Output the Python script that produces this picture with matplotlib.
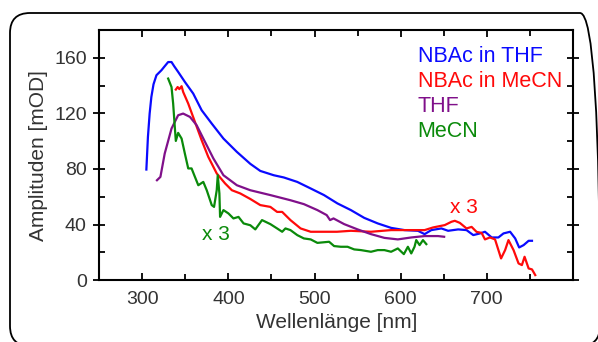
import matplotlib
matplotlib.use("Agg")
import matplotlib.pyplot as plt
from matplotlib.patches import FancyBboxPatch
from matplotlib.transforms import IdentityTransform
from matplotlib.ticker import MultipleLocator

plt.rcParams['font.family'] = ['Liberation Sans', 'DejaVu Sans']

# Transient absorption amplitudes (mOD) vs. wavelength (nm)
wl_nbac_thf = [304.7, 306.5, 308.5, 310.5, 313.0, 316.4, 322.2, 326.0, 330.0, 333.9,
               337.0, 341.6, 349.4, 359.1, 368.9, 380.6, 394.2, 409.8, 425.4, 437.0,
               452.6, 464.3, 479.9, 495.4, 511.0, 526.6, 542.2, 557.7, 573.4, 588.9,
               604.4, 620.1, 627.8, 635.6, 647.3, 655.1, 666.8, 676.5, 684.3, 692.1,
               697.9, 705.7, 713.5, 719.4, 727.1, 733.0, 737.6, 742.8, 748.6, 752.5]
amp_nbac_thf = [79.6, 103.0, 119.9, 131.9, 141.0, 147.5, 151.1, 154.0, 157.0, 157.0,
                154.0, 149.9, 142.7, 134.3, 122.3, 112.7, 101.9, 92.3, 83.7, 78.6,
                75.5, 73.9, 70.7, 66.0, 61.2, 55.2, 50.4, 44.8, 40.8, 37.6,
                36.0, 35.5, 33.1, 36.0, 37.2, 35.5, 36.5, 36.0, 32.4, 33.6,
                34.8, 30.7, 30.7, 33.6, 34.8, 30.0, 23.5, 25.2, 28.3, 28.3]

wl_nbac_mecn = [338.9, 341.0, 343.0, 345.6, 347.4, 353.3, 361.1, 368.9, 376.6, 386.4,
                396.1, 404.0, 413.7, 425.4, 437.0, 448.7, 456.5, 462.4, 472.0, 483.8,
                495.5, 511.0, 526.0, 542.2, 565.5, 588.9, 612.3, 627.8, 637.6, 651.2,
                659.0, 662.9, 668.7, 676.5, 682.4, 688.2, 694.0, 697.9, 703.7, 709.6,
                716.6, 721.3, 725.2, 731.1, 736.9, 740.8, 743.9, 748.6, 752.5, 756.3]
amp_nbac_mecn = [137.2, 139.0, 137.5, 139.6, 135.5, 127.1, 113.9, 100.7, 88.7, 76.8,
                 69.6, 64.7, 62.4, 58.4, 54.0, 52.7, 49.1, 49.1, 43.2, 37.2,
                 34.8, 34.8, 34.8, 35.5, 34.8, 36.0, 36.0, 36.0, 37.9, 39.6,
                 42.0, 42.7, 41.2, 37.2, 38.3, 34.7, 34.0, 29.3, 30.7, 29.3,
                 15.6, 21.6, 28.8, 21.6, 12.0, 10.8, 16.8, 8.4, 7.7, 3.6]

wl_thf = [317.0, 321.0, 326.0, 333.9, 341.6, 347.4, 355.3, 363.1, 372.8, 382.5,
          394.2, 409.8, 425.4, 448.7, 472.0, 487.6, 503.3, 514.1, 518.0, 522.0,
          534.4, 550.0, 565.5, 581.1, 596.7, 612.3, 627.8, 643.4, 650.5]
amp_thf = [71.9, 74.3, 91.1, 109.1, 118.7, 119.9, 117.5, 111.5, 99.5, 87.6,
           75.5, 68.3, 64.7, 61.2, 57.5, 54.7, 50.4, 46.8, 43.2, 44.4,
           40.3, 36.5, 33.1, 30.4, 29.3, 30.7, 31.7, 31.7, 31.2]

wl_mecn = [330.0, 333.9, 335.8, 337.7, 338.9, 341.6, 345.6, 349.4, 353.3, 357.2,
           361.1, 365.0, 370.8, 374.8, 380.6, 383.3, 386.4, 387.6, 389.5, 390.3,
           394.2, 400.0, 405.8, 411.7, 417.6, 425.4, 431.2, 439.0, 448.7, 456.5,
           462.4, 466.2, 472.0, 479.9, 487.6, 495.5, 503.3, 516.9, 522.7, 530.5,
           538.3, 546.0, 553.9, 565.5, 573.4, 581.1, 588.9, 596.7, 603.7, 608.4,
           612.3, 616.1, 618.1, 622.0, 625.9, 629.8]
amp_mecn = [145.1, 139.0, 127.1, 110.3, 100.2, 106.0, 101.9, 91.1, 80.4, 80.4,
            74.3, 68.3, 70.7, 64.7, 54.0, 52.7, 64.7, 75.5, 62.4, 45.5,
            50.4, 48.0, 44.4, 45.5, 40.8, 39.5, 36.5, 43.2, 40.3, 37.2,
            34.8, 37.2, 36.0, 32.4, 30.0, 29.3, 26.8, 27.6, 24.5, 24.0,
            24.0, 22.1, 21.6, 20.4, 21.6, 21.6, 20.4, 22.8, 18.7, 24.0,
            19.2, 24.0, 28.8, 25.2, 28.8, 25.9]

series_labels = ["NBAc in THF", "NBAc in MeCN", "THF", "MeCN"]
series_colors = ["#0a0aff", "#ff0a0a", "#80108a", "#0a8a0a"]

fig = plt.figure(figsize=(5.98, 3.42), dpi=100)

# rounded frame around the whole figure
frame = FancyBboxPatch((10, -4), 590, 333, boxstyle="round,pad=0,rounding_size=20",
                       transform=IdentityTransform(), facecolor="none",
                       edgecolor="black", linewidth=1.3, clip_on=False)
fig.patches.append(frame)

ax = fig.add_axes([0.166, 0.181, 0.792, 0.731])

series = [(wl_nbac_thf, amp_nbac_thf), (wl_nbac_mecn, amp_nbac_mecn),
          (wl_thf, amp_thf), (wl_mecn, amp_mecn)]
for (x, y), c in zip(series, series_colors):
    ax.plot(x, y, color=c, lw=1.6)

ax.set_xlim(250, 800)
ax.set_ylim(0, 180)
ax.xaxis.set_minor_locator(MultipleLocator(50))
ax.yaxis.set_major_locator(MultipleLocator(40))
ax.yaxis.set_minor_locator(MultipleLocator(20))
ax.set_xticks([300, 400, 500, 600, 700])

for s in ax.spines.values():
    s.set_linewidth(1.5)
ax.tick_params(which="both", direction="in", top=True, right=True, width=1.3,
               labelsize=14, labelcolor="#333333")
ax.tick_params(which="major", length=5)
ax.tick_params(which="minor", length=4)
ax.tick_params(axis="y", which="major", direction="inout", length=8, pad=5)
ax.tick_params(axis="x", which="major", pad=8)

ax.set_xlabel("Wellenlänge [nm]", fontsize=15, color="#333333")
ax.set_ylabel("Amplituden [mOD]", fontsize=15, color="#333333")
ax.xaxis.set_label_coords(0.501, -0.13)
ax.yaxis.set_label_coords(-0.108, 0.5)

for i, (lab, c) in enumerate(zip(series_labels, series_colors)):
    ax.text(0.672, 0.896 - i * 0.1, lab, transform=ax.transAxes, color=c,
            fontsize=15.5, va="center", ha="left")

ax.text(386, 33, "x 3", color=series_colors[3], fontsize=15, ha="center", va="center")
ax.text(673, 52, "x 3", color=series_colors[1], fontsize=15, ha="center", va="center")

fig.savefig("out.png", dpi=100)
